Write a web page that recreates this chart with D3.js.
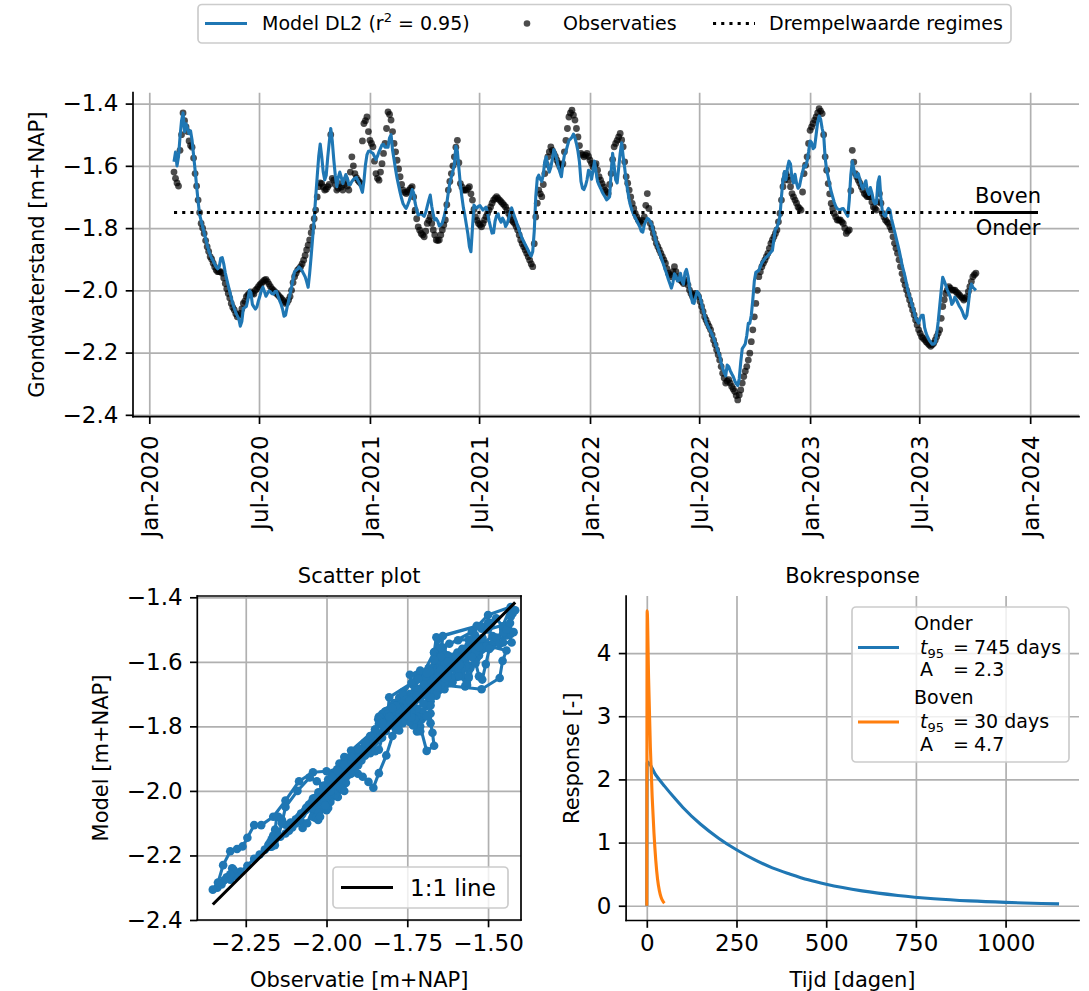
<!DOCTYPE html>
<html><head><meta charset="utf-8">
<script src="https://cdn.jsdelivr.net/npm/d3@7"></script>
<style>
html,body{margin:0;padding:0;background:#fff;}
svg{display:block;font-family:"DejaVu Sans",sans-serif;}
</style></head><body>
<svg id="chart" width="1089" height="991"></svg>
<script>
// ---------------- data ----------------
// readings every 5 days from obsStart, plus a second set half-way between (obsStart + 2.5 days)
const obsStart = "2020-02-11";
const stepDays = 5;
const modelValues = [
-1.587,-1.600,-1.507,-1.430,-1.465,-1.497,-1.518,-1.614,-1.714,-1.776,
-1.815,-1.853,-1.886,-1.906,-1.925,-1.925,-1.895,-1.943,-1.985,-2.024,
-2.058,-2.082,-2.115,-2.058,-2.052,-2.000,-2.045,-2.060,-2.034,-2.000,
-2.004,-2.010,-2.005,-2.012,-2.003,-2.032,-2.060,-2.080,-2.035,-1.990,
-1.940,-1.932,-1.930,-1.947,-1.972,-1.945,-1.830,-1.700,-1.570,-1.570,
-1.645,-1.572,-1.480,-1.580,-1.667,-1.620,-1.657,-1.628,-1.660,-1.650,
-1.640,-1.647,-1.670,-1.650,-1.565,-1.552,-1.560,-1.580,-1.555,-1.533,
-1.540,
-1.540,-1.500,-1.580,-1.640,-1.685,-1.722,-1.737,-1.713,-1.676,-1.720,
-1.758,-1.753,-1.762,-1.730,-1.694,-1.757,-1.770,-1.793,-1.783,-1.745,
-1.685,-1.636,-1.596,-1.553,-1.660,-1.735,-1.790,-1.860,-1.800,-1.733,
-1.730,-1.735,-1.737,-1.750,-1.797,-1.815,-1.760,-1.772,-1.768,-1.795,
-1.770,-1.735,-1.764,-1.793,-1.822,-1.843,-1.862,-1.882,-1.875,-1.700,
-1.630,-1.650,-1.585,-1.600,-1.605,-1.548,-1.580,-1.620,-1.595,-1.554,
-1.518,-1.508,-1.510,-1.553,-1.650,-1.676,-1.645,-1.620,-1.615,-1.620,
-1.662,-1.683,-1.700,-1.705,
-1.620,-1.600,-1.655,-1.560,-1.570,-1.650,-1.710,-1.745,-1.767,-1.786,
-1.810,-1.790,-1.769,-1.780,-1.810,-1.848,-1.877,-1.906,-1.935,-1.965,
-1.993,-1.947,-1.970,-1.945,-1.980,-1.933,-1.990,-2.040,-2.023,-2.010,
-2.042,-2.080,-2.113,-2.132,-2.153,-2.182,-2.210,-2.250,-2.275,-2.245,
-2.268,-2.290,-2.306,-2.230,-2.180,-2.145,-2.106,-2.030,-1.942,-1.936,
-1.912,-1.898,-1.888,-1.877,-1.835,-1.798,-1.762,-1.645,-1.645,-1.585,
-1.640,-1.627,-1.672,-1.640,-1.600,-1.585,-1.520,-1.545,-1.500,-1.440,
-1.480,-1.575,-1.635,-1.683,-1.717,-1.738,-1.742,-1.737,-1.754,-1.710,
-1.585,-1.634,-1.625,-1.663,-1.660,-1.680,-1.670,-1.711,-1.720,-1.635,
-1.750,-1.762,-1.737,-1.770,-1.810,-1.850,-1.893,-1.937,-1.980,-2.020,
-2.052,-2.088,-2.105,-2.080,-2.120,-2.150,-2.167,-2.173,-2.140,-2.050,
-1.958,-1.984,-2.010,-2.045,-2.022,-2.040,-2.058,-2.082,-2.080,-2.000,
-1.990,-2.000
];
const modelValuesMid = [
-1.556,-1.570,-1.455,-1.490,-1.480,-1.488,-1.566,-1.665,-1.757,-1.796,
-1.834,-1.872,-1.897,-1.916,-1.931,-1.897,-1.915,-1.965,-2.004,-2.043,
-2.072,-2.092,-2.100,-2.055,-2.030,-2.007,-2.053,-2.053,-2.018,-1.990,
-2.019,-2.002,-2.011,-2.004,-2.018,-2.044,-2.083,-2.055,-2.012,-1.963,
-1.936,-1.925,-1.937,-1.956,-1.990,-1.890,-1.770,-1.635,-1.530,-1.620,
-1.630,-1.524,-1.520,-1.630,-1.637,-1.637,-1.642,-1.640,-1.660,-1.644,
-1.637,-1.656,-1.685,-1.597,-1.553,-1.557,-1.570,-1.569,-1.544,-1.531,
-1.540,
-1.510,-1.550,-1.612,-1.663,-1.705,-1.730,-1.726,-1.696,-1.687,-1.741,
-1.756,-1.758,-1.750,-1.711,-1.730,-1.774,-1.778,-1.790,-1.767,-1.720,
-1.654,-1.617,-1.537,-1.607,-1.700,-1.760,-1.820,-1.876,-1.726,-1.735,
-1.728,-1.742,-1.733,-1.776,-1.816,-1.778,-1.754,-1.781,-1.777,-1.786,
-1.750,-1.750,-1.778,-1.807,-1.833,-1.853,-1.872,-1.890,-1.810,-1.640,
-1.643,-1.628,-1.571,-1.620,-1.578,-1.560,-1.603,-1.635,-1.565,-1.536,
-1.514,-1.498,-1.529,-1.588,-1.672,-1.664,-1.614,-1.643,-1.585,-1.650,
-1.672,-1.692,-1.709,-1.699,
-1.560,-1.645,-1.607,-1.526,-1.607,-1.680,-1.730,-1.757,-1.776,-1.796,
-1.813,-1.778,-1.772,-1.790,-1.828,-1.862,-1.891,-1.920,-1.949,-1.979,
-1.975,-1.954,-1.968,-1.970,-1.944,-1.954,-2.018,-2.042,-2.004,-2.022,
-2.062,-2.101,-2.123,-2.142,-2.168,-2.197,-2.232,-2.264,-2.240,-2.258,
-2.277,-2.300,-2.284,-2.187,-2.172,-2.106,-2.080,-1.970,-1.939,-1.924,
-1.905,-1.893,-1.883,-1.872,-1.804,-1.784,-1.700,-1.618,-1.606,-1.594,
-1.655,-1.655,-1.665,-1.620,-1.603,-1.555,-1.525,-1.540,-1.460,-1.450,
-1.500,-1.614,-1.662,-1.700,-1.730,-1.740,-1.738,-1.745,-1.762,-1.630,
-1.610,-1.636,-1.645,-1.674,-1.648,-1.692,-1.687,-1.722,-1.653,-1.705,
-1.758,-1.746,-1.743,-1.790,-1.830,-1.870,-1.918,-1.956,-2.004,-2.036,
-2.070,-2.098,-2.090,-2.080,-2.138,-2.160,-2.173,-2.168,-2.100,-2.000,
-1.970,-1.998,-2.022,-2.038,-2.030,-2.051,-2.068,-2.090,-2.045,-1.980,
-1.995
];
const obsValues = [
-1.620,-1.655,-1.550,-1.430,-1.475,-1.520,-1.540,-1.625,-1.710,-1.785,
-1.817,-1.860,-1.892,-1.913,-1.935,-1.940,-1.945,-1.978,-2.010,-2.042,
-2.063,-2.085,-2.074,-2.042,-2.020,-2.010,-2.010,-2.000,-1.988,-1.978,
-1.967,-1.972,-1.988,-2.000,-2.010,-2.020,-2.031,-2.042,-2.031,-2.000,
-1.956,-1.935,-1.924,-1.903,-1.870,-1.838,-1.796,-1.742,-1.667,-1.657,
-1.678,-1.667,-1.500,-1.646,-1.678,-1.657,-1.678,-1.646,-1.678,-1.571,
-1.625,-1.646,-1.657,-1.464,-1.443,-1.518,-1.539,-1.625,-1.646,-1.593,
-1.528,
-1.427,-1.453,-1.528,-1.582,-1.635,-1.678,-1.689,-1.678,-1.667,-1.742,
-1.796,-1.817,-1.828,-1.785,-1.764,-1.806,-1.838,-1.838,-1.806,-1.774,
-1.678,-1.625,-1.571,-1.518,-1.657,-1.678,-1.678,-1.667,-1.710,-1.764,
-1.785,-1.796,-1.774,-1.753,-1.732,-1.710,-1.699,-1.710,-1.721,-1.732,
-1.753,-1.774,-1.785,-1.806,-1.838,-1.860,-1.881,-1.903,-1.924,-1.764,
-1.678,-1.699,-1.625,-1.571,-1.539,-1.560,-1.582,-1.603,-1.593,-1.518,
-1.443,-1.421,-1.453,-1.507,-1.560,-1.571,-1.560,-1.582,-1.603,-1.593,
-1.635,-1.657,-1.678,-1.689,
-1.625,-1.539,-1.518,-1.496,-1.539,-1.635,-1.678,-1.721,-1.753,-1.774,
-1.785,-1.764,-1.689,-1.785,-1.817,-1.849,-1.870,-1.892,-1.913,-1.945,
-1.956,-1.924,-1.956,-1.967,-1.978,-1.967,-1.999,-2.020,-2.010,-2.020,
-2.052,-2.085,-2.106,-2.127,-2.160,-2.191,-2.224,-2.266,-2.298,-2.287,
-2.309,-2.325,-2.352,-2.320,-2.277,-2.245,-2.202,-2.127,-2.042,-1.956,
-1.924,-1.903,-1.881,-1.849,-1.828,-1.806,-1.753,-1.667,-1.625,-1.646,
-1.689,-1.710,-1.732,-1.742,-1.625,-1.571,-1.486,-1.464,-1.443,-1.416,
-1.432,-1.571,-1.657,-1.721,-1.753,-1.774,-1.774,-1.785,-1.817,-1.806,
-1.550,-1.625,-1.646,-1.667,-1.689,-1.699,-1.699,-1.732,-1.742,-1.689,
-1.753,-1.774,-1.785,-1.806,-1.849,-1.881,-1.924,-1.967,-1.999,-2.031,
-2.063,-2.095,-2.127,-2.149,-2.159,-2.170,-2.180,-2.170,-2.149,-2.127,
-2.052,-2.010,-1.988,-1.999,-1.999,-2.010,-2.020,-2.031,-2.020,-1.988,
-1.956,-1.945
];
const obsValuesMid = [
-1.640,-1.665,-1.500,-1.455,-1.490,-1.535,-1.575,-1.665,-1.750,-1.800,
-1.840,-1.875,-1.900,-1.925,-1.940,-1.940,-1.960,-1.995,-2.025,-2.055,
-2.075,-2.080,-2.060,-2.035,-2.015,-2.005,-2.012,-1.995,-1.982,-1.972,
-1.965,-1.980,-1.995,-2.005,-2.015,-2.025,-2.036,-2.040,-2.020,-1.975,
-1.945,-1.930,-1.915,-1.888,-1.855,-1.815,-1.770,-1.700,-1.655,-1.668,
-1.675,-1.660,-1.640,-1.660,-1.672,-1.668,-1.660,-1.665,-1.620,-1.600,
-1.638,-1.652,-1.520,-1.455,-1.490,-1.528,-1.585,-1.640,-1.620,-1.560,
-1.480,
-1.435,-1.490,-1.555,-1.610,-1.660,-1.685,-1.684,-1.672,-1.700,-1.770,
-1.807,-1.822,-1.810,-1.775,-1.785,-1.822,-1.840,-1.822,-1.790,-1.725,
-1.650,-1.600,-1.540,-1.590,-1.668,-1.678,-1.672,-1.690,-1.740,-1.775,
-1.790,-1.785,-1.763,-1.742,-1.720,-1.705,-1.705,-1.715,-1.726,-1.742,
-1.763,-1.780,-1.795,-1.822,-1.850,-1.870,-1.892,-1.915,-1.850,-1.720,
-1.690,-1.660,-1.595,-1.555,-1.550,-1.570,-1.592,-1.598,-1.555,-1.480,
-1.430,-1.437,-1.480,-1.535,-1.565,-1.566,-1.570,-1.592,-1.598,-1.614,
-1.646,-1.668,-1.684,-1.660,
-1.580,-1.528,-1.507,-1.517,-1.587,-1.656,-1.700,-1.737,-1.764,-1.780,
-1.775,-1.727,-1.737,-1.800,-1.833,-1.860,-1.881,-1.902,-1.930,-1.950,
-1.940,-1.940,-1.962,-1.972,-1.972,-1.983,-2.010,-2.015,-2.015,-2.036,
-2.068,-2.095,-2.116,-2.143,-2.175,-2.207,-2.245,-2.282,-2.292,-2.298,
-2.317,-2.338,-2.336,-2.298,-2.260,-2.224,-2.165,-2.085,-2.000,-1.940,
-1.913,-1.892,-1.865,-1.838,-1.817,-1.780,-1.710,-1.646,-1.635,-1.667,
-1.700,-1.720,-1.737,-1.684,-1.598,-1.528,-1.475,-1.453,-1.430,-1.424,
-1.500,-1.614,-1.690,-1.737,-1.764,-1.774,-1.780,-1.800,-1.810,-1.680,
-1.588,-1.636,-1.656,-1.678,-1.694,-1.699,-1.716,-1.737,-1.716,-1.720,
-1.764,-1.780,-1.796,-1.828,-1.865,-1.902,-1.946,-1.983,-2.015,-2.047,
-2.079,-2.111,-2.138,-2.154,-2.165,-2.175,-2.175,-2.160,-2.138,-2.090,
-2.030,-1.999,-1.993,-1.999,-2.005,-2.015,-2.025,-2.026,-2.004,-1.972,
-1.950
];
const threshold = -1.75;
const timeTicks = ["2020-01-01","2020-07-01","2021-01-01","2021-07-01","2022-01-01",
                   "2022-07-01","2023-01-01","2023-07-01","2024-01-01"];
const timeDomain = ["2019-12-05","2024-03-22"];
const levelTicks = [-2.4,-2.2,-2.0,-1.8,-1.6,-1.4];
const scatterXTicks = [-2.25,-2.0,-1.75,-1.5];
const onderT = [0,1,25,50,75,100,150,200,250,300,350,400,450,500,600,700,800,900,1000,1100,1149];
const onderV = [0,2.28,2.07,1.89,1.72,1.56,1.29,1.07,0.886,0.73,0.60,0.50,0.41,0.34,0.235,0.163,0.112,0.077,0.053,0.036,0.03];
const bovenT = [0,1,5,10,15,20,25,30,35,40,45,49];
const bovenV = [0,4.67,3.6,2.5,1.72,1.15,0.72,0.42,0.24,0.13,0.07,0.04];
const respXTicks = [0,250,500,750,1000];
const respYTicks = [0,1,2,3,4];

// ---------------- helpers ----------------
const BLUE = "#1f77b4", ORANGE = "#ff7f0e", GRID = "#b0b0b0";
const LW = 1.7, TICK = 7.3, PAD = 7.3, TICKFS = 23, LABFS = 21, LEGFS = 19;
const svg = d3.select("#chart");
const parse = d3.utcParse("%Y-%m-%d");
const t0 = parse(obsStart);
const tMid = d3.utcHour.offset(t0, stepDays * 12);
const series = [];
modelValues.forEach((v, i) => { if (i < obsValues.length)
  series.push({date: d3.utcDay.offset(t0, i * stepDays), model: v, obs: obsValues[i]}); });
modelValuesMid.forEach((v, i) => { if (i < obsValuesMid.length)
  series.push({date: d3.utcDay.offset(tMid, i * stepDays), model: v, obs: obsValuesMid[i]}); });
series.sort((a, b) => a.date - b.date);
const n = series.length;
const allObs = series.map(d => d.obs);

function gridLines(g, xs, xt, ys, yt, box) {
  g.append("g").attr("transform", `translate(0,${box.bottom})`)
    .call(d3.axisBottom(xs).tickValues(xt).tickSize(-(box.bottom - box.top)).tickFormat(""))
    .call(a => { a.select(".domain").remove(); a.selectAll("line").attr("stroke", GRID).attr("stroke-width", LW); });
  g.append("g").attr("transform", `translate(${box.left},0)`)
    .call(d3.axisLeft(ys).tickValues(yt).tickSize(-(box.right - box.left)).tickFormat(""))
    .call(a => { a.select(".domain").remove(); a.selectAll("line").attr("stroke", GRID).attr("stroke-width", LW); });
}
function styleAxis(a) {
  a.attr("font-family", "DejaVu Sans, sans-serif").attr("font-size", TICKFS);
  a.select(".domain").remove();
  a.selectAll(".tick line").attr("stroke", "#000").attr("stroke-width", LW);
  a.selectAll(".tick text").attr("fill", "#000");
}
function spines(g, box, all) {
  const s = g.append("g").attr("stroke", "#000").attr("stroke-width", LW).attr("stroke-linecap", "square");
  s.append("line").attr("x1", box.left).attr("x2", box.left).attr("y1", box.top).attr("y2", box.bottom);
  s.append("line").attr("x1", box.left).attr("x2", box.right).attr("y1", box.bottom).attr("y2", box.bottom);
  if (all) {
    s.append("line").attr("x1", box.right).attr("x2", box.right).attr("y1", box.top).attr("y2", box.bottom);
    s.append("line").attr("x1", box.left).attr("x2", box.right).attr("y1", box.top).attr("y2", box.top);
  }
}
function legendBox(g, x, y, w, h) {
  g.append("rect").attr("x", x).attr("y", y).attr("width", w).attr("height", h)
    .attr("rx", 4).attr("fill", "#fff").attr("fill-opacity", 0.8)
    .attr("stroke", "#cccccc").attr("stroke-width", LW);
}
function yLabel(g, text, cx, cy) {
  g.append("text").attr("transform", `translate(${cx},${cy}) rotate(-90)`)
    .attr("text-anchor", "middle").attr("dy", "0.35em").attr("font-size", LABFS).text(text);
}

// ---------------- top: time series ----------------
const T = {left: 133, right: 1079, top: 92.7, bottom: 416.7};
const xT = d3.scaleUtc().domain(timeDomain.map(parse)).range([T.left, T.right]);
const yT = d3.scaleLinear().domain([-2.406, -1.365]).range([T.bottom, T.top]);
const gT = svg.append("g");
gridLines(gT, xT, timeTicks.map(parse), yT, levelTicks, T);

gT.append("g").selectAll("circle").data(series).join("circle")
  .attr("cx", d => xT(d.date)).attr("cy", d => yT(d.obs)).attr("r", 3.4)
  .attr("fill", "#000").attr("fill-opacity", 0.7);
gT.append("path").datum(series)
  .attr("d", d3.line().x(d => xT(d.date)).y(d => yT(d.model)))
  .attr("fill", "none").attr("stroke", BLUE).attr("stroke-width", 3.1).attr("stroke-linejoin", "round");
gT.append("line")
  .attr("x1", xT(series[0].date)).attr("x2", xT(series[n - 1].date))
  .attr("y1", yT(threshold)).attr("y2", yT(threshold))
  .attr("stroke", "#000").attr("stroke-width", 3.1).attr("stroke-dasharray", "3.1,5.1");
// regime annotation
const lastDate = series[n - 1].date;
const annEnd = d3.utcDay.offset(lastDate, 103);
const annStart = d3.utcDay.offset(lastDate, -3);
gT.append("line").attr("x1", xT(annStart)).attr("x2", xT(annEnd))
  .attr("y1", yT(threshold)).attr("y2", yT(threshold)).attr("stroke", "#000").attr("stroke-width", 3.1);
const annX = (xT(annStart) + xT(annEnd)) / 2 + 2;
gT.append("text").attr("x", annX).attr("y", yT(threshold) - 10).attr("text-anchor", "middle")
  .attr("font-size", LABFS).text("Boven");
gT.append("text").attr("x", annX).attr("y", yT(threshold) + 22).attr("text-anchor", "middle")
  .attr("font-size", LABFS).text("Onder");

const axTy = gT.append("g").attr("transform", `translate(${T.left},0)`)
  .call(d3.axisLeft(yT).tickValues(levelTicks).tickSize(TICK).tickPadding(PAD).tickFormat(d3.format(".1f")));
styleAxis(axTy);
const axTx = gT.append("g").attr("transform", `translate(0,${T.bottom})`)
  .call(d3.axisBottom(xT).tickValues(timeTicks.map(parse)).tickSize(TICK).tickFormat(d3.utcFormat("%b-%Y")));
styleAxis(axTx);
axTx.selectAll(".tick text").attr("x", 0).attr("y", 0).attr("dy", "0.35em")
  .attr("text-anchor", "end").attr("transform", `translate(0,${TICK + PAD + 4}) rotate(-90)`);
spines(gT, T, false);
yLabel(gT, "Grondwaterstand [m+NAP]", 37, (T.top + T.bottom) / 2);

// top legend
const gL = svg.append("g").attr("font-size", LEGFS);
legendBox(gL, 198, 4.5, 813, 38.5);
gL.append("line").attr("x1", 205).attr("x2", 247).attr("y1", 23.5).attr("y2", 23.5)
  .attr("stroke", BLUE).attr("stroke-width", 3.1);
const lt = gL.append("text").attr("x", 262).attr("y", 30.3);
lt.append("tspan").text("Model DL2 (r");
lt.append("tspan").attr("font-size", 13).attr("dy", -8).text("2");
lt.append("tspan").attr("dy", 8).text(" = 0.95)");
gL.append("circle").attr("cx", 527).attr("cy", 23.5).attr("r", 3.3).attr("fill", "#000").attr("fill-opacity", 0.7);
gL.append("text").attr("x", 563).attr("y", 30.3).text("Observaties");
gL.append("line").attr("x1", 713).attr("x2", 755).attr("y1", 23.5).attr("y2", 23.5)
  .attr("stroke", "#000").attr("stroke-width", 3.1).attr("stroke-dasharray", "3.1,5.1");
gL.append("text").attr("x", 769).attr("y", 30.3).text("Drempelwaarde regimes");

// ---------------- bottom-left: scatter ----------------
const S = {left: 197.3, right: 521, top: 596, bottom: 920};
const xS = d3.scaleLinear().domain([-2.4, -1.398]).range([S.left, S.right]);
const yS = d3.scaleLinear().domain([-2.4, -1.396]).range([S.bottom, S.top]);
const gS = svg.append("g");
gridLines(gS, xS, scatterXTicks, yS, levelTicks, S);
gS.append("path").datum(series)
  .attr("d", d3.line().x(d => xS(d.obs)).y(d => yS(d.model)))
  .attr("fill", "none").attr("stroke", BLUE).attr("stroke-width", 3.1).attr("stroke-linejoin", "round");
gS.append("g").selectAll("circle").data(series).join("circle")
  .attr("cx", d => xS(d.obs)).attr("cy", d => yS(d.model)).attr("r", 4.3).attr("fill", BLUE);
const ext = d3.extent(allObs);
gS.append("line").attr("x1", xS(ext[0])).attr("y1", yS(ext[0])).attr("x2", xS(ext[1])).attr("y2", yS(ext[1]))
  .attr("stroke", "#000").attr("stroke-width", 3.1);
const axSy = gS.append("g").attr("transform", `translate(${S.left},0)`)
  .call(d3.axisLeft(yS).tickValues(levelTicks).tickSize(TICK).tickPadding(PAD).tickFormat(d3.format(".1f")));
styleAxis(axSy);
const axSx = gS.append("g").attr("transform", `translate(0,${S.bottom})`)
  .call(d3.axisBottom(xS).tickValues(scatterXTicks).tickSize(TICK).tickPadding(PAD).tickFormat(d3.format(".2f")));
styleAxis(axSx);
spines(gS, S, true);
gS.append("text").attr("x", (S.left + S.right) / 2).attr("y", 583).attr("text-anchor", "middle")
  .attr("font-size", LABFS).text("Scatter plot");
gS.append("text").attr("x", (S.left + S.right) / 2).attr("y", 987).attr("text-anchor", "middle")
  .attr("font-size", LABFS).text("Observatie [m+NAP]");
yLabel(gS, "Model [m+NAP]", 101, (S.top + S.bottom) / 2);
legendBox(gS, 333, 867, 175, 41);
gS.append("line").attr("x1", 341).attr("x2", 393).attr("y1", 887.5).attr("y2", 887.5)
  .attr("stroke", "#000").attr("stroke-width", 3.1);
gS.append("text").attr("x", 410).attr("y", 895.5).attr("font-size", TICKFS).text("1:1 line");

// ---------------- bottom-right: block response ----------------
const R = {left: 626.1, right: 1079, top: 596, bottom: 920.5};
const xR = d3.scaleLinear().domain([-57.7, 1204.6]).range([R.left, R.right]);
const yR = d3.scaleLinear().domain([-0.2335, 4.9035]).range([R.bottom, R.top]);
const gR = svg.append("g");
gridLines(gR, xR, respXTicks, yR, respYTicks, R);
const lineR = d3.line().x(d => xR(d[0])).y(d => yR(d[1])).curve(d3.curveMonotoneX);
gR.append("path").datum(d3.zip(onderT, onderV)).attr("d", lineR)
  .attr("fill", "none").attr("stroke", BLUE).attr("stroke-width", 3.1);
gR.append("path").datum(d3.zip(bovenT, bovenV)).attr("d", lineR)
  .attr("fill", "none").attr("stroke", ORANGE).attr("stroke-width", 3.1);
const axRy = gR.append("g").attr("transform", `translate(${R.left},0)`)
  .call(d3.axisLeft(yR).tickValues(respYTicks).tickSize(TICK).tickPadding(PAD).tickFormat(d3.format("d")));
styleAxis(axRy);
const axRx = gR.append("g").attr("transform", `translate(0,${R.bottom})`)
  .call(d3.axisBottom(xR).tickValues(respXTicks).tickSize(TICK).tickPadding(PAD).tickFormat(d3.format("d")));
styleAxis(axRx);
spines(gR, R, false);
gR.append("text").attr("x", (R.left + R.right) / 2).attr("y", 583).attr("text-anchor", "middle")
  .attr("font-size", LABFS).text("Bokresponse");
gR.append("text").attr("x", (R.left + R.right) / 2).attr("y", 987).attr("text-anchor", "middle")
  .attr("font-size", LABFS).text("Tijd [dagen]");
yLabel(gR, "Response [-]", 572, (R.top + R.bottom) / 2);

// response legend
const gRL = gR.append("g").attr("font-size", LEGFS);
legendBox(gRL, 852, 607, 217, 155);
const entries = [
  {name: "Onder", t95: "745 days", A: "2.3", color: BLUE, y0: 623},
  {name: "Boven", t95: "30 days", A: "4.7", color: ORANGE, y0: 697.5}
];
entries.forEach(e => {
  gRL.append("line").attr("x1", 858).attr("x2", 899).attr("y1", e.y0 + 24.5).attr("y2", e.y0 + 24.5)
    .attr("stroke", e.color).attr("stroke-width", 3.1);
  gRL.append("text").attr("x", 914).attr("y", e.y0 + 6.7).text(e.name);
  const tt = gRL.append("text").attr("x", 920).attr("y", e.y0 + 30.5);
  tt.append("tspan").attr("font-style", "italic").text("t");
  tt.append("tspan").attr("font-size", 13).attr("dy", 4).text("95");
  gRL.append("text").attr("x", 953).attr("y", e.y0 + 30.5).text("=");
  gRL.append("text").attr("x", 974).attr("y", e.y0 + 30.5).text(e.t95);
  gRL.append("text").attr("x", 920).attr("y", e.y0 + 53).text("A");
  gRL.append("text").attr("x", 953).attr("y", e.y0 + 53).text("=");
  gRL.append("text").attr("x", 974).attr("y", e.y0 + 53).text(e.A);
});
</script>
</body></html>
